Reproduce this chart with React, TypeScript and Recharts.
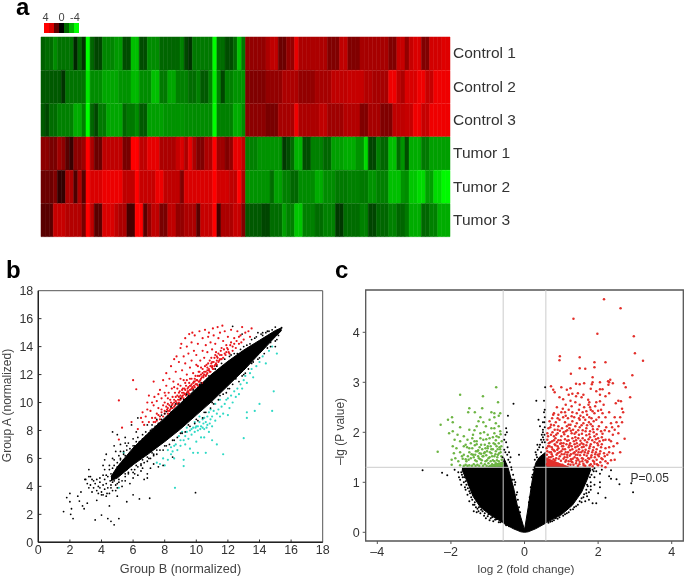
import React from "react";
import {
  BarChart, Bar, Cell, XAxis, YAxis, ComposedChart, Area, Scatter, ReferenceArea, ReferenceLine, ReferenceDot,
} from "recharts";

const rowNames = ["Control 1", "Control 2", "Control 3", "Tumor 1", "Tumor 2", "Tumor 3"];
const control1 = [-1.5,-1.7,-1.7,-2.2,-1.8,-1.8,-1.8,-1.8,-0.6,-1.6,-0.8,-4,-1.6,-1.1,-1.1,-2.1,-2.1,-2.1,-2.4,-2.4,-1.2,-1.2,-3,-3,-1.2,-1.2,-2.2,-2.2,-2.2,-1.6,-1.6,-1.6,-1.6,-1.6,-2,-1.1,-0.8,-1.9,-1.9,-1.9,-1.9,-1.9,-4,-1.7,-1.7,-1.2,-1.2,-1.7,-3.1,-1.9,
2.3,2.3,2.3,2.3,2.3,2.7,3,3,1.7,1.7,2.3,2.3,3.6,2.7,2.7,2.7,2.7,2.7,2.7,2.7,2,2,2,3,3,2,2,2,2.6,2.6,2.6,2.6,2.6,2.6,2.6,2,2,3.1,3.1,2.3,3.1,3.4,3.4,2,2,3.3,3.3,3.3,3.5,3.5];
const control2 = [-1.4,-1.4,-1.4,-1.4,-1.4,-0.8,-1.8,-1.8,-1.8,-1.8,-1.8,-3.6,-2.2,-2.2,-2.2,-2.6,-2.6,-2.6,-2.6,-2.3,-2.3,-2.3,-2.9,-2.9,-2.2,-2.2,-2.2,-3,-3,-1.9,-1.9,-2.6,-2.6,-2,-2,-2,-1.7,-1.7,-2,-1.4,-1.4,-2,-3.75,-2,-1.1,-2,-2,-2.3,-2.3,-2.3,
2,2,2,2,2,2.3,2.3,2.3,2.3,2.7,2.7,2.7,2.7,2.3,2.3,2.3,2.3,2.6,2.6,2.6,2.6,3,3,3,3,3.1,3.1,3.1,3.1,2.8,2.8,2.6,2.6,2.6,2.6,3.75,3.75,3,2.7,3.4,3.4,3.4,3.75,3.75,3.1,3.1,3.75,3.75,3.75,3.75];
const control3 = [-1.4,-1.1,-1.7,-1.7,-2,-2,-2,-2,-2.7,-2.7,-2,-4,-1.6,-1.1,-1.9,-1.9,-2.6,-2.6,-2.6,-2.6,-1.6,-1.9,-1.9,-2.2,-1.4,-1.4,-2.5,-2.5,-2.5,-2.5,-2.3,-2.3,-2.3,-2.3,-2.3,-2.2,-2.2,-2.2,-2.2,-2.2,-2.2,-2.2,-4,-2,-2,-2,-2,-2.7,-2.7,-2.2,
2.2,2.2,2.2,2.2,2.2,1.9,1.9,1.9,2.6,2.6,2.6,2.6,3.75,2.7,2.7,2.7,2.7,2.7,3,3,2.5,2.5,2.5,2.5,2.8,2.8,2.8,2.8,2,2,2.6,2.6,2.6,2,2,2,3,3,3,3.1,3.1,3.75,3.75,3.1,3.1,3.75,3.75,3.75,3.75,3.75];
const tumor1 = [2.2,2.2,1.9,1.9,2.5,2.2,1.4,0.9,2.2,2.2,2.5,4,2.7,1.7,1.7,3,3,3,3,3,1.9,1.9,4,4,3,3,3.6,3.6,3.6,2.7,2.7,2.7,2.7,3.1,3.4,2.7,3.6,2.7,2,2,2.7,2.7,4,2.5,2.5,2,2.3,3.6,3.6,3,
-2,-2,-2,-2.3,-2.3,-2.3,-2.3,-2.3,-2.3,-0.9,-1.2,-1.7,-2.8,-2.8,-1.2,-1.2,-2,-2,-2,-1.6,-1.6,-2.5,-2.5,-2.5,-2.7,-2.7,-2.7,-2.3,-2.3,-3.4,-1.1,-1.1,-2,-1.6,-1.6,-3,-3,-1.7,-2.3,-1.2,-2.7,-2.7,-2.7,-1.9,-1.9,-2.5,-2.5,-2.5,-2.5,-2.5];
const tumor2 = [1.7,1.7,1.7,2,0.8,0.8,2.7,2.7,1.2,2.7,1.4,4,3.4,3.4,3.4,3.7,3.7,3.7,3.7,3.7,3,3,3,4,3.1,3.1,3.1,3.1,3.7,3.7,3,3,3,3,2,3.4,3.4,3.4,3.4,3.4,3.4,3.4,4,3.3,3.3,3.3,3,3,4,2.7,
-2.3,-2.3,-2.3,-2.3,-2.3,-2.3,-1.7,-2.5,-2.5,-2,-2,-1.6,-1.6,-2.2,-2.2,-2.2,-2.2,-2.7,-2.7,-2.2,-2.2,-2.2,-1.9,-1.9,-1.9,-2,-2,-2,-1.9,-1.9,-2.3,-2.3,-2,-2,-2,-3,-3,-3,-2.3,-2.2,-3.1,-3.1,-3.4,-3.4,-2.5,-2.5,-3.4,-3.4,-3.9,-3.9];
const tumor3 = [1.4,1.4,1.4,3.1,3.1,3.1,2.8,2.8,2.8,2.8,1.9,4,3,1.4,1.4,3.4,3.4,3.4,3,2.7,2.7,1.1,1.1,4,4,1.4,2.3,3,3,1.9,1.9,3,3,2.3,2.3,2.7,2.7,2.7,1.4,3.1,3.1,3.1,4,1.1,2.7,2.7,2.7,3.1,3.1,2,
-1.4,-1.4,-1.4,-1.4,-1.1,-1.1,-1.7,-1.7,-1.7,-2.5,-2,-2,-3.1,-3.1,-2,-2,-2,-1.7,-1.7,-2,-2,-2,-0.9,-0.9,-1.7,-1.7,-1.7,-1.7,-2,-2,-1.1,-1.1,-1.6,-1.6,-1.6,-2,-2,-1.6,-1.6,-1.9,-2.7,-2.7,-2.7,-1.6,-1.6,-2,-2,-2.7,-2.7,-2.7];
const heatRows = [control1, control2, control3, tumor1, tumor2, tumor3];
const keySwatches = [4, 3.4, 1.5, 0, -1.6, -2.8, -4];

const bRed = [[5.1,10.15],[5.1,7.35],[5.3,8.2],[6,11.6],[6.2,10.95],[5.9,8.6],[6.5,8.9],[6.6,9.3],[6.3,8.1],[6.7,8.4],[6.8,9],[6.9,10],[7,10.5],[7.1,9.4],[7.2,8.9],[7.3,9.8],[7.35,10.4],[7.3,11.5],[7,8.6],[7.5,9.2],[7.5,10.1],[7.6,9.6],[7.7,8.8],[7.7,10.9],[7.8,10.3],[7.8,9.3],[7.9,9.8],[7.9,11.6],[8,9.2],[8,10],[8.05,10.5],[8.1,11.2],[8.1,12.1],[8.15,9.5],[8.2,9.2],[8.2,9.9],[8.25,10.7],[8.3,11.7],[8.3,9.4],[8.35,10.2],[8.4,9.6],[8.4,12.6],[8.45,11],[8.5,9.9],[8.5,10.4],[8.55,11.5],[8.6,9.7],[8.6,13.1],[8.65,10.7],[8.7,10.1],[8.7,12.2],[8.75,13.3],[8.8,9.9],[8.8,10.5],[8.85,11.3],[8.9,12.9],[8.9,10],[8.95,10.8],[9,10.2],[9,11.7],[9,13.9],[9.05,14.2],[9.1,10.4],[9.1,12.3],[9.15,11],[9.2,10.3],[9.2,13.3],[9.25,10.6],[9.3,11.4],[9.3,12.8],[9.3,14.6],[9.35,10.5],[9.4,12],[9.4,14],[9.45,10.8],[9.5,11.1],[9.5,13.5],[9.55,10.6],[9.55,14.9],[9.6,11.7],[9.6,12.5],[9.65,10.9],[9.7,11.3],[9.7,13],[9.7,14.3],[9.75,15],[9.8,11],[9.8,12.1],[9.85,11.5],[9.85,13.7],[9.9,11.1],[9.9,14.8],[9.95,11.9],[10,11.3],[10,12.7],[10,13.4],[10.05,11.6],[10.1,11.2],[10.1,14.2],[10.15,12.2],[10.2,11.5],[10.2,15.1],[10.25,13],[10.3,11.7],[10.3,12.5],[10.35,11.4],[10.4,14.6],[10.4,13.7],[10.45,11.9],[10.5,12.2],[10.5,13.2],[10.55,15.2],[10.6,11.9],[10.6,14.1],[10.65,12.7],[10.7,12.1],[10.7,13.6],[10.75,14.7],[10.8,12.3],[10.8,15],[10.85,13],[10.9,12.2],[10.9,14.3],[10.95,12.8],[11,12.5],[11,13.8],[11.05,15.3],[11.1,12.4],[11.1,14.8],[11.15,13.2],[11.2,12.7],[11.2,14.2],[11.25,13.6],[11.3,13],[11.35,15.4],[11.4,12.9],[11.4,14.6],[11.5,13.4],[11.5,15],[11.6,13.1],[11.6,13.9],[11.65,15.5],[11.7,14.4],[11.8,13.5],[11.8,15.1],[11.9,13.6],[11.9,14.1],[12,13.8],[12,14.7],[12.1,13.5],[12.2,14.3],[12.2,15.2],[12.3,14],[12.4,14.6],[12.5,13.9],[12.6,15.1],[12.7,14.2],[12.8,14.8],[12.9,15.4],[13,14.5],[13.1,15],[13.3,15.1],[13.5,15.3],[13.4,14.7],[8.2,9.6],[8.4,10],[8.6,10.2],[8.9,10.4],[9.1,10.7],[9.3,10.9],[9.5,10.7],[9.7,11],[9.9,11.5],[10.2,11.9],[10.4,12.1],[10.7,12.5],[11,12.9],[11.3,13.3],[7.6,9.1],[7.4,8.9],[8.8,11],[9.2,11.6],[9.6,11.2],[10.1,12.6]];
const bRedDense = [[7.3,8.6],[7.5,8.7],[7.7,9],[7.8,9.5],[7.9,9],[8,9.4],[8.1,9.7],[8.2,9.4],[8.3,9.8],[8.35,9.5],[8.45,9.8],[8.5,9.6],[8.6,10],[8.65,9.8],[8.7,10.4],[8.75,10],[8.85,10.2],[8.9,10.7],[8.95,10.2],[9,10.5],[9.05,10.3],[9.1,10.9],[9.15,10.5],[9.2,10.7],[9.25,11],[9.3,10.6],[9.35,11.2],[9.4,10.7],[9.45,11],[9.5,10.8],[9.55,11.4],[9.6,10.9],[9.65,11.2],[9.7,11.7],[9.75,11.1],[9.8,11.4],[9.85,11.2],[9.9,11.7],[9.95,11.3],[10,11.6],[10.05,11.3],[10.1,11.9],[10.15,11.5],[10.2,12.2],[10.25,11.6],[10.3,12],[10.35,11.8],[10.4,12.4],[10.45,11.8],[10.5,12],[10.55,12.6],[10.6,12.2],[10.65,12],[10.7,12.3],[10.75,12.8],[10.8,12.4],[10.85,12.2],[10.9,12.6],[10.95,13.2],[11,12.6],[11.05,12.4],[11.1,12.9],[11.15,12.6],[11.2,13.4],[11.25,12.8],[11.3,12.7],[11.35,13.2],[11.4,13.5],[11.45,13],[11.5,13.1],[11.55,13.7],[11.6,13.4],[11.7,13.2],[11.75,13.8],[11.85,13.4],[11.95,13.9],[12.05,13.6],[12.15,14.1],[12.3,13.7],[12.4,14.2],[12.55,14.4],[12.7,14.7],[12.85,14.3],[8,10.7],[8.2,10.3],[7.6,10.6],[8.6,11.1],[9,11.2],[9.4,11.6],[7.2,10],[6.6,8.6],[6.9,9.5],[7.4,8.6]];
const bCyan = [[7.7,5.6],[7.9,6],[8,5.5],[8.2,5.9],[8.4,6.3],[8.4,6.8],[8.5,6.5],[8.6,6],[8.7,7],[8.8,6.6],[9,7.3],[9,6.9],[9.2,5.9],[9.2,5.45],[9.3,7.6],[9.3,7],[9.4,7.9],[9.5,7.4],[9.6,6.7],[9.6,8],[9.7,7.7],[9.8,6.4],[9.8,8.2],[9.9,7.9],[10,7.2],[10,8.3],[10.1,6.4],[10.1,8],[10.2,8.6],[10.3,7.5],[10.3,8.3],[10.4,8.8],[10.5,8.1],[10.5,7.5],[10.6,8.6],[10.6,6.4],[10.7,9],[10.7,8.4],[10.8,7.9],[10.8,9.3],[10.9,8.8],[11,9],[11,8.3],[11,7.3],[11.1,9.4],[11.2,8.7],[11.3,9.2],[11.3,7],[11.4,9.5],[11.5,9],[11.6,9.7],[11.7,9.2],[11.7,6.3],[11.8,9.9],[11.9,10.2],[12,9.1],[12,10.3],[12.1,9.6],[12.2,10.5],[12.3,10],[12.4,10.8],[12.5,10.4],[12.6,11],[12.7,10.6],[12.8,11.3],[12.9,11],[13,11.6],[13.1,11.9],[13.2,9.3],[13.2,8.9],[13,7.45],[13.2,11.4],[13.4,12.1],[13.5,12.4],[13.6,11.8],[13.7,9.4],[13.8,12.6],[14,12.9],[14,9.9],[14.2,13.3],[14.4,12.8],[14.6,13.7],[14.8,14],[15.1,13.5],[14.9,10.8],[14.8,9.4],[8.65,3.9],[5.1,3.9],[5.4,6.4],[7.5,5.7],[9.9,8.6],[10.2,9],[10.5,8.9],[9.4,8.2],[9.1,7.9],[8.9,7.6],[10.9,9.5],[11.2,9.9],[11.5,10.2],[10.4,8.2],[10.1,8.3],[10.25,8.1],[10.65,8.2],[10.85,8.5],[10.45,8.5],[9.95,8.2],[9.7,8.1],[9.2,7.3],[8.6,6.9],[8.2,6.6]];
const bBlack = [[1.6,2.2],[1.8,3.2],[2,3.5],[2.05,2],[2.1,2.4],[2.2,1.7],[2,2.9],[2.5,3.3],[2.6,2.95],[2.7,3.6],[2.8,2.6],[2.9,2.4],[3.1,2.8],[3,4.5],[3.2,5.2],[3.2,4.7],[3.3,4.1],[3.4,3.6],[3.5,4.4],[3.6,1.6],[3.7,3],[3.8,4],[4,3.6],[4,1.95],[4.2,4.5],[4.3,3.3],[4.4,1.7],[4.4,3.9],[4.5,2.6],[4.6,1.5],[4.8,1.25],[4.9,3.7],[5.1,1.7],[5,3.3],[5.3,4],[5.6,2.9],[6,3.4],[6.4,3.1],[7.05,3.15],[9.95,3.55],[4.7,7.9],[5,7.7],[5.5,7.5],[5.9,8.4],[6.3,8.9],[6.2,7.9],[4.3,6.3],[4.7,6],[4.9,6.5],[5.2,5.6],[5.4,6.3],[6.9,4.9],[6.7,4.5],[6.9,4.6],[6.3,4.8],[6,4.6],[5.5,4.4],[5.7,5],[4.2,5.2],[4.5,5.5],[3.9,4.6],[3.6,4.2],[3.7,3.7],[4.6,4.9],[4.7,3.7],[5,4.2],[5.8,4.2],[6.5,5.1],[7.1,5.3],[7.6,5.4],[7.9,5.5],[8.5,6.1],[12.3,15.45],[13.5,14.5],[14.7,14.3],[15,14],[15.1,14.5],[15.4,15.35],[12.9,14.9],[13.9,15],[14.5,15.1],[14.2,15],[7.2,6.4],[4.8,5.9],[5.1,6.2],[5.4,6.5],[5.7,7.1],[6,7.4],[6.3,7.5],[6.6,7.7],[6.9,8.4],[7.2,8.4],[7.5,8.8],[7.8,9.1],[8.1,9.35],[8.4,9.7],[8.7,9.9],[9,10.3],[9.4,10.6],[9.8,10.9],[10.3,11.4],[10.8,11.9],[11.3,12.6],[11.8,13.1],[12.2,13.4],[12.6,13.5],[13,14],[13.4,14.2],[13.8,14.7],[14.2,14.8],[14.6,15.1],[15,15.4],[5,3.9],[5.5,4.7],[6,5],[6.5,5.6],[7,6],[7.5,6.6],[8,6.9],[8.5,7.3],[9,7.8],[9.5,8.4],[10,8.8],[10.5,9.3],[11,10],[11.5,10.5],[12,11],[12.5,11.7],[13,12],[13.5,12.8],[14,13.2],[14.5,13.9],[3.2,3.9],[3.4,4.5],[3.7,4.5],[3.9,3.9],[4.1,4.1],[4.1,4.8],[4.3,4.2],[4.4,4.7],[4.5,3.5],[4.6,4.1],[4.7,5.3],[4.8,4.4],[4.9,5],[5,5.4],[5.1,4.5],[5.2,5.9],[5.3,5],[5.5,6.2],[5.6,5.2],[5.8,6.7],[5.9,5.5],[6.1,6.9],[6.2,5.5],[6.4,7.2],[6.6,5.9],[6.8,7.6],[6.9,6.1],[7.3,6.3],[7.1,8]];
const bBlackFringe = [[4,3.4],[4.2,3.8],[4.3,4.8],[4.5,5.2],[4.6,3.9],[4.7,4.3],[4.8,5.5],[4.9,4.1],[5,5.7],[5.1,4.3],[5.2,6],[5.3,4.4],[5.4,5.9],[5.5,4.9],[5.6,6.6],[5.7,4.9],[5.8,6.4],[5.9,5.2],[6,6.9],[6.1,5.2],[6.2,7.2],[6.3,5.4],[6.4,6.9],[6.5,5.5],[6.6,7.4],[6.7,5.7],[6.8,7.9],[6.9,5.8],[7,7.8],[7.1,6],[7.2,8.1],[7.3,6.2],[7.4,8.3],[7.5,6.3],[7.6,8.5],[7.7,6.6],[7.8,8.8],[7.9,6.6],[8,9.2],[8.1,6.9],[8.3,7],[8.4,9.3],[8.6,7.3],[8.8,7.5],[8.9,9.9],[9.1,7.8],[9.2,10.2],[9.3,7.9],[9.5,10.5],[9.6,8.3],[9.9,8.5],[10.1,8.7],[10.2,11.3],[10.4,8.9],[10.6,9.3],[10.7,11.7],[10.9,9.6],[11.1,9.9],[11.2,12.4],[11.4,10.2],[11.6,12.8],[11.7,10.6],[11.9,10.7],[12.1,11],[12.1,13.3],[12.3,11.3],[12.4,13.5],[12.7,11.5],[12.8,13.8],[12.9,11.9],[13.1,12.1],[13.2,14.1],[13.3,12.4],[13.6,12.9],[13.7,14.6],[13.9,13.1],[14.1,14.9],[14.3,13.5],[14.4,15],[14.7,14],[14.8,15.2],[15,14.4],[15.2,14.8],[15.3,15.2],[3.5,3.9],[3.8,3.5],[3.9,4.3],[4.1,3.4],[4.35,3.5],[4.55,4.4],[4.75,4.8],[3.3,4.7],[3.1,4.2],[2.95,4.5],[4.1,5.5],[6.1,4.9],[6.6,5.3],[7.3,5.6],[5.2,7],[5.5,7.1],[5.6,6.9],[5.2,6.5],[4.8,6.9],[4.2,5.9]];
const bBand = [{x:4.6,range:[4.4,4.7]},{x:5,range:[4.6,5.4]},{x:6,range:[5.55,6.75]},{x:7,range:[6.35,7.85]},{x:8,range:[7.2,8.9]},{x:9,range:[8.1,9.95]},{x:10,range:[9.1,11]},{x:11,range:[10.1,12.05]},{x:12,range:[11.2,12.95]},{x:13,range:[12.3,13.75]},{x:14,range:[13.5,14.45]},{x:15,range:[14.7,15.15]},{x:15.4,range:[15.15,15.35]}];

const cRed = [[2.16,4.66],[2.61,4.48],[1.33,4.27],[1.98,3.97],[2.97,3.92],[3,3.58],[3.22,3.43],[0.96,3.52],[0.95,3.44],[1.5,3.5],[1.9,3.4],[2.2,3.4],[1.9,3.3],[1.5,3.28],[1.65,3.27],[2.93,3.14],[1.26,3.17],[1.85,3.1],[1.85,3],[2.33,3.05],[2.3,3],[2.27,3.02],[2.7,2.98],[2.75,2.9],[2.05,3],[0.72,2.92],[0.78,2.85],[0.82,2.8],[1,2.9],[1.15,2.85],[1.25,2.88],[1.4,2.97],[1.5,2.96],[1.62,2.98],[1.8,2.87],[1.83,2.96],[1.95,2.82],[2.05,2.86],[2.12,2.86],[2.28,2.95],[2.4,2.98],[2.87,2.7],[1.2,2.75],[1.3,2.77],[1.4,2.72],[1.45,2.78],[1.55,2.7],[1.6,2.75],[2.05,2.75],[2.2,2.72],[2.3,2.78],[0.95,2.7],[1.05,2.66],[1.25,2.63],[1.38,2.6],[1.5,2.55],[1.73,2.65],[1.76,2.6],[1.74,2.55],[1.78,2.5],[1.95,2.6],[2.05,2.62],[2.15,2.55],[2.55,2.63],[1.8,2.45],[1.85,2.42],[1.9,2.38],[2,2.43],[2.08,2.45],[2.3,2.4],[2.65,2.47],[2.68,2.4],[0.8,2.38],[0.92,2.35],[1,2.4],[1.05,2.3],[1.12,2.33],[1.2,2.45],[1.3,2.4],[1.35,2.3],[1.42,2.38],[1.52,2.33],[1.6,2.3],[1.7,2.35],[1.76,2.3],[2.2,2.3],[2.45,2.3],[2.65,2.2],[0.68,2.22],[0.75,2.28],[0.85,2.2],[0.95,2.25],[1.1,2.2],[1.2,2.15],[1.3,2.22],[1.42,2.18],[1.5,2.25],[1.6,2.18],[1.75,2.2],[1.85,2.12],[1.95,2.25],[2.1,2.2],[2.22,2.1],[2.35,2.18],[2.55,2.12],[2.6,2.3],[0.65,2.08],[0.72,2.15],[0.82,2.05],[0.92,2.12],[1.02,2.08],[1.12,2.02],[1.22,2.08],[1.32,2.05],[1.4,2],[1.5,2.1],[1.58,2.04],[1.68,2.08],[1.78,2.02],[1.88,2],[1.98,2.06],[2.08,2.02],[2.3,2.02],[2.45,2.05],[2.55,1.98],[2.72,1.87],[0.62,1.98],[0.72,1.95],[0.8,1.92],[0.9,1.98],[1,1.92],[1.08,1.96],[1.18,1.92],[1.28,1.98],[1.38,1.9],[1.48,1.95],[1.58,1.88],[1.68,1.94],[1.78,1.9],[1.9,1.92],[2,1.88],[2.1,1.9],[2.2,1.85],[2.35,1.82],[2.4,1.95],[0.62,1.85],[0.7,1.8],[0.8,1.84],[0.88,1.8],[0.98,1.84],[1.06,1.78],[1.16,1.83],[1.24,1.78],[1.34,1.82],[1.42,1.78],[1.52,1.83],[1.6,1.76],[1.7,1.8],[1.8,1.76],[1.9,1.8],[2,1.74],[2.1,1.76],[2.2,1.68],[2.3,1.7],[2.42,1.72],[0.64,1.72],[0.74,1.7],[0.84,1.74],[0.92,1.68],[1.02,1.72],[1.1,1.66],[1.2,1.7],[1.3,1.66],[1.38,1.7],[1.48,1.66],[1.56,1.7],[1.66,1.65],[1.76,1.68],[1.86,1.64],[1.96,1.66],[2.06,1.62],[2.16,1.58],[2.3,1.6],[2.4,1.58],[0.62,1.62],[0.72,1.6],[0.8,1.64],[0.9,1.58],[1,1.62],[1.08,1.56],[1.18,1.6],[1.26,1.56],[1.36,1.6],[1.44,1.55],[1.54,1.6],[1.62,1.55],[1.72,1.58],[1.82,1.54],[1.92,1.56],[2.02,1.52],[2.12,1.46],[2.2,1.42],[2.35,1.44],[0.66,1.5],[0.76,1.52],[0.86,1.48],[0.96,1.52],[1.06,1.47],[1.16,1.5],[1.26,1.46],[1.36,1.5],[1.46,1.45],[1.56,1.48],[1.66,1.44],[1.76,1.47],[1.86,1.43],[1.96,1.45],[2.06,1.4],[2.26,1.38],[1.2,1.42],[1.3,1.4],[1.4,1.38],[1.5,1.41],[1.6,1.37],[1.7,1.4],[1.8,1.36],[1.9,1.37],[2,1.34],[2.1,1.33],[1.25,1.35],[1.45,1.33],[1.65,1.33],[1.85,1.32],[1.12,2.55],[1.62,2.5],[1.68,2.42],[1.92,2.52],[2.48,2.58],[2.62,2.62],[0.88,2.5],[1.48,2.45],[1.28,2.52],[1.04,2.47]];
const cRedDense = [[0.61,1.36],[0.69,1.41],[0.75,1.35],[0.83,1.44],[0.91,1.37],[0.99,1.43],[1.03,1.35],[1.11,1.41],[1.19,1.36],[1.27,1.42],[1.33,1.35],[1.41,1.43],[1.49,1.36],[1.57,1.42],[1.61,1.34],[1.71,1.42],[1.77,1.34],[1.89,1.41],[1.97,1.36],[0.63,1.45],[0.71,1.5],[0.79,1.46],[0.87,1.55],[0.93,1.47],[1.01,1.56],[1.09,1.5],[1.13,1.44],[1.23,1.53],[1.31,1.47],[1.39,1.55],[1.43,1.48],[1.51,1.54],[1.59,1.47],[1.69,1.53],[1.73,1.48],[1.81,1.5],[1.91,1.5],[1.99,1.55],[2.09,1.48],[2.18,1.52],[0.61,1.55],[0.68,1.6],[0.74,1.56],[0.82,1.62],[0.89,1.65],[0.95,1.6],[1.04,1.66],[1.12,1.6],[1.16,1.55],[1.24,1.64],[1.33,1.58],[1.41,1.63],[1.47,1.6],[1.58,1.63],[1.64,1.6],[1.74,1.62],[1.84,1.6],[1.94,1.6],[2.04,1.57],[2.25,1.55],[0.6,1.68],[0.68,1.72],[0.76,1.66],[0.82,1.76],[0.9,1.72],[0.97,1.77],[1.05,1.72],[1.14,1.76],[1.22,1.74],[1.28,1.72],[1.36,1.76],[1.44,1.72],[1.5,1.75],[1.61,1.71],[1.68,1.74],[1.78,1.72],[1.88,1.7],[1.98,1.78],[2.08,1.7],[0.66,1.78],[0.75,1.82],[0.84,1.88],[0.92,1.84],[1,1.78],[1.1,1.86],[1.2,1.84],[1.3,1.88],[1.4,1.84],[1.46,1.88],[1.55,1.78],[1.64,1.84],[1.74,1.86],[1.84,1.84],[1.94,1.86],[2.04,1.82],[2.14,1.84],[0.64,1.92],[0.76,2],[0.86,1.95],[0.96,2.03],[1.06,2],[1.16,2.04],[1.26,2.03],[1.36,1.97],[1.46,2.04],[1.56,1.97],[1.66,2.02],[1.76,1.96],[1.86,2.06],[1.96,1.96],[2.12,1.97],[0.7,2.1],[0.8,2.14],[0.9,2.05],[1.15,2.12],[1.25,2.15],[1.38,2.12],[1.55,2.14],[1.7,2.14],[1.8,2.16],[2.02,2.12],[2.18,2.04],[0.78,2.35],[0.9,2.28],[1.18,2.28],[1.28,2.32],[1.48,2.28],[1.65,2.25],[1.82,2.28],[1.88,2.22],[2.02,2.3],[2.12,2.38],[2.5,2.2],[1.1,2.4],[1.58,2.4],[2.38,2.1],[2.52,1.78],[2.6,1.6],[2.45,1.45],[2.2,1.3],[2.3,1.85]];
const cGreen = [[-2.36,1.61],[-2.28,2.15],[-2.08,2.25],[-1.97,2.3],[-1.95,2.2],[-1.75,2.75],[-1.13,2.72],[-0.77,2.9],[-0.72,2.6],[-1.15,2.48],[-1.5,2.48],[-1.53,2.4],[-1.35,2.4],[-0.9,2.4],[-0.82,2.38],[-0.66,2.38],[-0.7,2.33],[-0.82,2.3],[-1.2,2.3],[-1.25,2.22],[-1.12,2.2],[-0.95,2.25],[-0.78,2.18],[-1.3,2.12],[-1.05,2.12],[-0.9,2.08],[-0.7,2.12],[-1.75,2.1],[-1.5,2.05],[-1.95,2.02],[-2.05,1.98],[-1.82,1.95],[-1.65,1.92],[-1.4,1.95],[-1.2,1.98],[-1,1.95],[-0.82,1.98],[-0.65,1.96],[-1.9,1.85],[-1.75,1.82],[-1.55,1.85],[-1.42,1.88],[-1.3,1.82],[-1.12,1.85],[-0.95,1.88],[-0.78,1.84],[-0.62,1.82],[-1.95,1.72],[-1.85,1.68],[-1.6,1.75],[-1.5,1.68],[-1.35,1.74],[-1.22,1.7],[-1.08,1.75],[-0.92,1.72],[-0.8,1.76],[-0.68,1.7],[-1.92,1.58],[-1.75,1.6],[-1.65,1.55],[-1.5,1.6],[-1.4,1.55],[-1.28,1.62],[-1.18,1.57],[-1.02,1.62],[-0.9,1.58],[-0.78,1.62],[-0.65,1.6],[-1.98,1.45],[-1.88,1.48],[-1.8,1.42],[-1.68,1.47],[-1.58,1.42],[-1.46,1.48],[-1.34,1.44],[-1.24,1.48],[-1.12,1.52],[-1.06,1.42],[-0.95,1.5],[-0.86,1.44],[-0.74,1.5],[-0.62,1.45],[-1.98,1.35],[-1.75,1.34],[-1.6,1.35],[-1.5,1.34],[-1.38,1.36],[-1.28,1.35],[-1.18,1.38],[-1.08,1.36],[-0.98,1.38],[-0.88,1.36],[-0.78,1.38],[-0.68,1.36],[-0.6,1.38],[-1.15,1.66],[-1,1.68],[-0.72,1.55],[-0.82,1.52],[-1.1,1.58],[-1.34,1.55],[-0.96,1.78],[-0.7,1.78],[-0.86,1.66],[-1.2,1.46],[-0.66,1.66],[-0.92,1.42]];
const cGreenDense = [[-0.62,1.33],[-0.7,1.42],[-0.76,1.33],[-0.82,1.42],[-0.85,1.33],[-0.93,1.33],[-1.02,1.44],[-1.03,1.33],[-1.13,1.33],[-1.16,1.44],[-1.23,1.33],[-1.3,1.42],[-1.33,1.33],[-1.43,1.33],[-1.52,1.45],[-1.55,1.33],[-1.65,1.33],[-0.63,1.52],[-0.69,1.58],[-0.75,1.44],[-0.79,1.56],[-0.88,1.52],[-0.94,1.6],[-0.98,1.48],[-1.04,1.54],[-1.08,1.6],[-1.14,1.52],[-1.22,1.58],[-1.26,1.52],[-1.32,1.62],[-1.38,1.5],[-1.44,1.56],[-1.54,1.52],[-1.6,1.46],[-1.7,1.52],[-0.63,1.72],[-0.73,1.66],[-0.76,1.72],[-0.84,1.78],[-0.9,1.66],[-1,1.72],[-1.06,1.68],[-1.18,1.75],[-1.26,1.64],[-1.3,1.76],[-1.42,1.68],[-1.46,1.78],[-1.56,1.7],[-1.65,1.72],[-0.7,1.9],[-0.76,1.92],[-0.86,1.9],[-1.04,1.86],[-1.2,1.88],[-1.36,1.82],[-0.66,2.02],[-0.82,2.08],[-1.1,2],[-1.36,2.04]];
const cBlack = [[-2.77,1.24],[-2.24,1.19],[-2.1,1.14],[-1.8,1.2],[-1.75,1.05],[-1.72,0.95],[-1.7,1.15],[-1.65,1],[-1.6,0.85],[-1.55,0.75],[-1.5,0.82],[-1.4,0.55],[-1.38,0.42],[-1.45,0.7],[-1.3,0.4],[-1.2,0.38],[-1.1,0.33],[-1.05,0.28],[-0.95,0.24],[-0.85,0.22],[-0.7,0.2],[-1.35,0.6],[-0.3,2.57],[-0.45,2.33],[-0.5,2.08],[-0.48,2],[-0.52,1.95],[-0.55,1.85],[-0.5,1.8],[-0.46,1.7],[-0.42,1.6],[-0.55,1.65],[-0.38,1.5],[-0.15,1.55],[-0.35,1.25],[0.32,2.63],[0.53,2.63],[0.55,2.45],[0.53,2.4],[0.55,2.3],[0.5,2.2],[0.38,2.25],[0.42,2.12],[0.55,2.1],[0.5,2],[0.45,1.85],[0.55,1.8],[0.35,1.75],[0.4,1.7],[0.3,1.6],[0.56,2.9],[0.5,1.7],[2.2,0.69],[2.95,0.8],[2.9,0.98],[2.58,0.96],[2.5,1.06],[2.35,1.07],[2.3,1.12],[2.35,1.24],[2.1,1.25],[2.05,1.17],[2.05,1],[2.05,0.9],[2,0.78],[1.95,0.58],[1.85,0.58],[1.75,0.65],[1.9,1.1],[1.95,1.22],[1.8,1],[1.8,0.85],[1.7,0.72],[1.65,0.62],[1.55,0.6],[1.45,0.55],[1.35,0.5],[1.2,0.4],[1.1,0.36],[0.9,0.27],[0.75,0.22],[-1.9,1.25],[-1.78,1.1],[-1.62,0.9],[-1.5,0.62],[-1.25,0.42],[-0.6,1.5],[-0.55,1.42],[-0.25,1],[-0.2,0.8],[0.2,1.1],[0.27,1.3],[0.34,1.5],[0.45,1.6],[0.5,1.9],[-0.12,0.4],[0.12,0.6],[1.85,1.25],[1.9,0.95],[1.75,0.8],[1.6,0.7],[1.68,0.85]];
const cBlackFringe = [[-1.72,1.2],[-1.68,1.1],[-1.64,1.1],[-1.6,1.02],[-1.58,0.95],[-1.54,0.88],[-1.52,0.95],[-1.48,0.78],[-1.46,0.88],[-1.42,0.65],[-1.4,0.75],[-1.36,0.55],[-1.32,0.5],[-1.28,0.47],[-1.24,0.5],[-1.18,0.45],[-1.14,0.42],[-1.08,0.38],[-1,0.32],[-0.98,0.36],[-0.92,0.28],[-0.88,0.3],[-0.8,0.25],[-0.76,0.26],[-0.66,0.2],[-0.62,0.22],[-0.5,0.14],[-0.42,0.12],[-0.28,1.05],[-0.26,0.95],[-0.31,1.15],[-0.33,1.05],[-0.36,1.3],[-0.4,1.4],[-0.44,1.45],[-0.47,1.55],[-0.52,1.6],[-0.22,0.75],[-0.18,0.65],[-0.15,0.5],[0.14,0.7],[0.17,0.9],[0.22,1.15],[0.24,1.25],[0.28,1.45],[0.32,1.55],[0.36,1.65],[0.42,1.75],[0.48,1.8],[0.52,1.85],[0.54,1.95],[0.5,2.05],[0.47,1.95],[0.54,2.2],[0.65,0.19],[0.7,0.21],[0.8,0.24],[0.85,0.28],[0.95,0.3],[1.05,0.33],[1.15,0.38],[1.25,0.45],[1.32,0.46],[1.4,0.52],[1.5,0.62],[1.55,0.68],[1.62,0.76],[1.68,0.78],[1.72,0.92],[1.78,1.1],[1.82,1.15],[1.88,1.22],[1.9,1.28],[1.8,0.92],[1.7,0.95],[1.75,1.2]];
const cBlackCore = [{x:-1.7,range:[1.25,1.3]},{x:-1.55,range:[1,1.3]},{x:-1.4,range:[0.72,1.3]},{x:-1.2,range:[0.5,1.3]},{x:-0.9,range:[0.33,1.3]},{x:-0.58,range:[0.19,1.3]},{x:-0.57,range:[0.18,1.5]},{x:-0.45,range:[0.13,1.3]},{x:-0.3,range:[0.07,0.9]},{x:-0.2,range:[0.04,0.55]},{x:-0.1,range:[0.01,0.3]},{x:0,range:[0,0.05]},{x:0.1,range:[0.01,0.5]},{x:0.2,range:[0.04,1]},{x:0.3,range:[0.07,1.38]},{x:0.4,range:[0.11,1.5]},{x:0.57,range:[0.18,1.6]},{x:0.58,range:[0.19,1.3]},{x:1,range:[0.35,1.3]},{x:1.3,range:[0.54,1.3]},{x:1.55,range:[0.8,1.3]},{x:1.7,range:[1.05,1.3]},{x:1.8,range:[1.25,1.3]}];
const cRedCore = [{x:0.58,range:[1.3,1.5]},{x:0.9,range:[1.3,1.4]},{x:1.2,range:[1.3,1.32]}];
const cGreenCore = [{x:-1,range:[1.3,1.33]},{x:-0.58,range:[1.3,1.42]}];

const bTicks = [0,2,4,6,8,10,12,14,16,18];
const cXTicks = [-4,-2,0,2,4];
const cYTicks = [0,1,2,3,4];

const FONT = "'Liberation Sans', Arial, sans-serif";
const toPts = (pairs: number[][]) => pairs.map(([x, y]) => ({ x, y }));
const heatColor = (v: number) => {
  const c = Math.round((Math.abs(v) / 4) * 255);
  return v >= 0 ? `rgb(${c},0,0)` : `rgb(0,${c},0)`;
};
const columnKeys = control1.map((_, i) => `c${i}`);
const heatData = rowNames.map((row) => {
  const o: Record<string, any> = { row };
  columnKeys.forEach((k) => (o[k] = 1));
  return o;
});
const keyData = [Object.fromEntries([["row", "key"], ...keySwatches.map((_, i) => [`k${i}`, 1])])];
const dot = (r: number) => (p: any) => <circle cx={p.cx} cy={p.cy} r={r} fill={p.fill} />;
const tickStyle = { fontSize: 12.5, fill: "#333", fontFamily: FONT };
const labelStyle = { fontSize: 12, fill: "#444", fontFamily: FONT };

export default function App() {
  return (
    <div style={{ position: "absolute", left: 0, top: 0, width: 685, height: 576, overflow: "hidden", background: "#fff", fontFamily: FONT, filter: "blur(0.35px)" }}>
      <div style={{ position: "absolute", left: 0, top: 30 }}>
        <BarChart width={685} height={214} data={heatData} layout="vertical" barCategoryGap={0} margin={{ top: 7, bottom: 7, left: 41, right: 3 }}>
          <XAxis type="number" domain={[0, 100]} hide />
          <YAxis type="category" dataKey="row" orientation="right" width={232} axisLine={false} tickLine={false} tickSize={0} tickMargin={3} interval={0}
            tick={{ fontSize: 15.5, fill: "#333", fontFamily: FONT, textAnchor: "start", dy: -1 }} />
          {columnKeys.map((k, ci) => (
            <Bar key={k} dataKey={k} stackId="h" isAnimationActive={false}>
              {heatRows.map((r, ri) => <Cell key={ri} fill={heatColor(r[ci])} stroke={heatColor(r[ci])} strokeWidth={0.5} />)}
            </Bar>
          ))}
        </BarChart>
      </div>
      <div style={{ position: "absolute", left: 44, top: 23, shapeRendering: "crispEdges" }}>
        <BarChart width={35} height={10} data={keyData} layout="vertical" barCategoryGap={0} margin={{ top: 0, bottom: 0, left: 0, right: 0 }}>
          <XAxis type="number" domain={[0, 7]} hide />
          <YAxis type="category" dataKey="row" hide />
          {keySwatches.map((v, i) => (
            <Bar key={i} dataKey={`k${i}`} stackId="k" fill={heatColor(v)} isAnimationActive={false} />
          ))}
        </BarChart>
      </div>

      <div style={{ position: "absolute", left: 0, top: 280 }}>
        <ComposedChart width={335} height={296} margin={{ top: 10.7, right: 12.3, bottom: 0, left: 8.3 }}>
          <XAxis type="number" dataKey="x" domain={[0, 18]} ticks={bTicks} interval={0} height={33.7} axisLine={{ stroke: "#222", strokeWidth: 1.4 }} tickLine={false} tickSize={0} tickMargin={3} tick={tickStyle}
            label={{ value: "Group B (normalized)", position: "insideBottom", offset: 3, style: { ...labelStyle, fontSize: 12.7 } }} />
          <YAxis type="number" dataKey="y" domain={[0, 18]} ticks={bTicks} interval={0} width={30} axisLine={{ stroke: "#222", strokeWidth: 1.4 }} tickLine={false} tickSize={0} tickMargin={5} tick={tickStyle}
            label={{ value: "Group A (normalized)", angle: -90, position: "insideLeft", offset: 0, dx: -2, dy: -11, style: { ...labelStyle, textAnchor: "middle" } }} />
          <Scatter data={toPts(bRed)} fill="#E8151B" shape={dot(1.1)} isAnimationActive={false} />
          <Scatter data={toPts(bRedDense)} fill="#E8151B" shape={dot(1.1)} isAnimationActive={false} />
          <Scatter data={toPts(bCyan)} fill="#2FD9C5" shape={dot(1.1)} isAnimationActive={false} />
          <Scatter data={toPts(bBlack)} fill="#000" shape={dot(0.9)} isAnimationActive={false} />
          <Scatter data={toPts(bBlackFringe)} fill="#000" shape={dot(0.9)} isAnimationActive={false} />
          <Area data={bBand} dataKey="range" type="linear" fill="#000" fillOpacity={1} stroke="#000" strokeWidth={1} dot={false} activeDot={false} isAnimationActive={false} />
          <ReferenceArea x1={0} x2={18} y1={0} y2={18} fill="none" stroke="#555" strokeWidth={1} />
          {bTicks.slice(1, -1).map((t) => (
            <ReferenceLine key={`bx${t}`} segment={[{ x: t, y: 0 }, { x: t, y: 0.2 }]} stroke="#333" />
          ))}
          {bTicks.slice(1, -1).map((t) => (
            <ReferenceLine key={`by${t}`} segment={[{ x: 0, y: t }, { x: 0.2, y: t }]} stroke="#333" />
          ))}
        </ComposedChart>
      </div>

      <div style={{ position: "absolute", left: 335, top: 280 }}>
        <ComposedChart width={350} height={296} margin={{ top: 10, right: 1.7, bottom: 0, left: 0.7 }}>
          <XAxis type="number" dataKey="x" domain={[-4.316, 4.315]} ticks={cXTicks} interval={0} height={35} axisLine={false} tickLine={{ stroke: "#555" }} tickSize={3} tickMargin={3}
            tickFormatter={(v: number) => (v < 0 ? `–${-v}` : `${v}`)} tick={tickStyle}
            label={{ value: "log 2 (fold change)", position: "insideBottom", offset: 3, dx: 1.5, style: { ...labelStyle, fontSize: 11.7 } }} />
          <YAxis type="number" dataKey="y" domain={[-0.174, 4.846]} ticks={cYTicks} interval={0} width={30} axisLine={false} tickLine={{ stroke: "#555" }} tickSize={3} tickMargin={3} tick={tickStyle}
            label={{ value: "–lg (P value)", angle: -90, position: "insideLeft", offset: 0, dx: 4, dy: 16, style: { ...labelStyle, textAnchor: "middle" } }} />
          <Area data={cRedCore} dataKey="range" type="linear" fill="#E3302B" fillOpacity={1} stroke="none" dot={false} activeDot={false} isAnimationActive={false} />
          <Area data={cGreenCore} dataKey="range" type="linear" fill="#6DB544" fillOpacity={1} stroke="none" dot={false} activeDot={false} isAnimationActive={false} />
          <Scatter data={toPts(cRed)} fill="#E3302B" shape={dot(1.25)} isAnimationActive={false} />
          <Scatter data={toPts(cRedDense)} fill="#E3302B" shape={dot(1.25)} isAnimationActive={false} />
          <Scatter data={toPts(cGreen)} fill="#6DB544" shape={dot(1.25)} isAnimationActive={false} />
          <Scatter data={toPts(cGreenDense)} fill="#6DB544" shape={dot(1.25)} isAnimationActive={false} />
          <Scatter data={toPts(cBlack)} fill="#000" shape={dot(1)} isAnimationActive={false} />
          <Scatter data={toPts(cBlackFringe)} fill="#000" shape={dot(1)} isAnimationActive={false} />
          <Area data={cBlackCore} dataKey="range" type="linear" fill="#000" fillOpacity={1} stroke="#000" strokeWidth={1} dot={false} activeDot={false} isAnimationActive={false} />
          <ReferenceLine x={-0.58} stroke="#ccc" strokeWidth={1} />
          <ReferenceLine x={0.58} stroke="#ccc" strokeWidth={1} />
          <ReferenceLine y={1.3} stroke="#ccc" strokeWidth={1} />
          <ReferenceDot x={3.4} y={1.1} r={0} fill="none" stroke="none" label={{ value: "P=0.05", position: "center", style: { ...tickStyle, fontSize: 12 } }} />
          <ReferenceArea x1={-4.316} x2={4.315} y1={-0.174} y2={4.846} fill="none" stroke="#555" strokeWidth={1.3} />
        </ComposedChart>
      </div>

      <svg width={685} height={576} style={{ position: "absolute", left: 0, top: 0, pointerEvents: "none" }}>
        <g fontFamily={FONT} fontWeight="bold" fontSize={24} fill="#000">
          <text x={16} y={15}>a</text>
          <text x={6} y={278}>b</text>
          <text x={335} y={278}>c</text>
        </g>
        <g fontFamily={FONT} fontSize={11} fill="#444" textAnchor="middle">
          <text x={45.5} y={21}>4</text>
          <text x={61.5} y={21}>0</text>
          <text x={75} y={21}>-4</text>
        </g>
      </svg>
    </div>
  );
}
